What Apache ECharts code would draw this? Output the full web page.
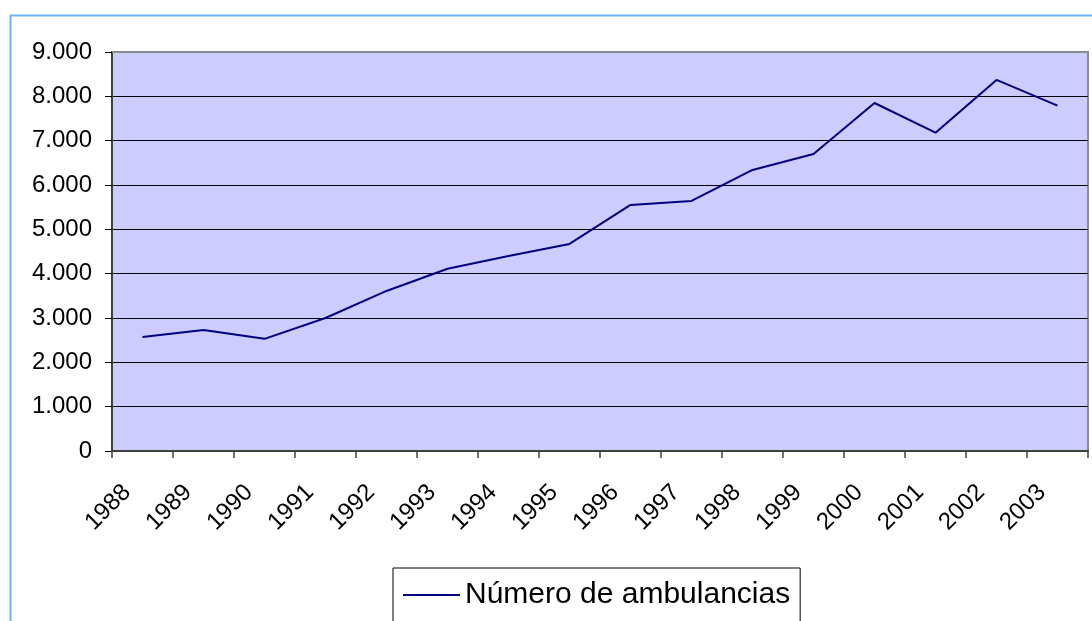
<!DOCTYPE html>
<html>
<head>
<meta charset="utf-8">
<script src="https://cdn.jsdelivr.net/npm/echarts@6/dist/echarts.min.js"></script>
<style>
  html, body { margin: 0; padding: 0; background: #fff; }
  #chart { width: 1092px; height: 621px; }
</style>
</head>
<body>
<div id="chart"></div>
<script>
// datos
const years = ['1988', '1989', '1990', '1991', '1992', '1993', '1994', '1995',
               '1996', '1997', '1998', '1999', '2000', '2001', '2002', '2003'];
const ambulancias = [2570, 2730, 2530, 3000, 3610, 4110, 4400, 4670,
                     5550, 5640, 6340, 6700, 7850, 7180, 8370, 7790];
const seriesName = 'Número de ambulancias';

const fmt = v => String(v).replace(/\B(?=(\d{3})+(?!\d))/g, '.');
const font = 'Liberation Sans, Arial, sans-serif';

const myChart = echarts.init(document.getElementById('chart'));
myChart.setOption({
    animation: false,
    textStyle: { fontFamily: font },
    graphic: [
        {
            type: 'rect',
            shape: { x: 10.5, y: 15.5, width: 1200, height: 800 },
            style: { fill: 'none', stroke: '#6fb3ff', lineWidth: 2 },
            silent: true
        },
        {
            // borde superior gris del área de trazado
            type: 'line',
            shape: { x1: 112, y1: 52, x2: 1088, y2: 52 },
            style: { stroke: '#8c8c8c', lineWidth: 2 },
            z: 100,
            silent: true
        }
    ],
    grid: {
        left: 112, right: 4, top: 52, bottom: 170,
        show: true,
        backgroundColor: '#ccccff',
        borderColor: '#8c8c8c',
        borderWidth: 2
    },
    legend: {
        data: [seriesName],
        left: 393,
        top: 568,
        padding: [12, 10, 14, 10],
        borderColor: '#000',
        borderWidth: 1,
        icon: 'rect',
        itemWidth: 57,
        itemHeight: 2,
        itemGap: 4,
        textStyle: { fontSize: 30, color: '#000', fontFamily: font }
    },
    xAxis: {
        type: 'category',
        data: years,
        boundaryGap: true,
        axisLine: { lineStyle: { color: '#404040', width: 2 } },
        axisTick: { show: true, length: 7, lineStyle: { color: '#404040', width: 1.5 } },
        axisLabel: {
            rotate: 45,
            interval: 0,
            margin: 22,
            padding: [0, 22, 0, 0],
            fontSize: 24,
            color: '#000'
        }
    },
    yAxis: {
        type: 'value',
        min: 0,
        max: 9000,
        interval: 1000,
        axisLine: { show: true, lineStyle: { color: '#404040', width: 2 } },
        axisTick: { show: true, length: 7, lineStyle: { color: '#000', width: 1 } },
        axisLabel: { fontSize: 24, color: '#000', margin: 20, formatter: fmt },
        splitLine: { lineStyle: { color: '#000', width: 1 } }
    },
    series: [
        {
            name: seriesName,
            type: 'line',
            data: ambulancias,
            symbol: 'none',
            lineStyle: { color: '#000080', width: 2 },
            itemStyle: { color: '#000080' }
        }
    ]
});
</script>
</body>
</html>
